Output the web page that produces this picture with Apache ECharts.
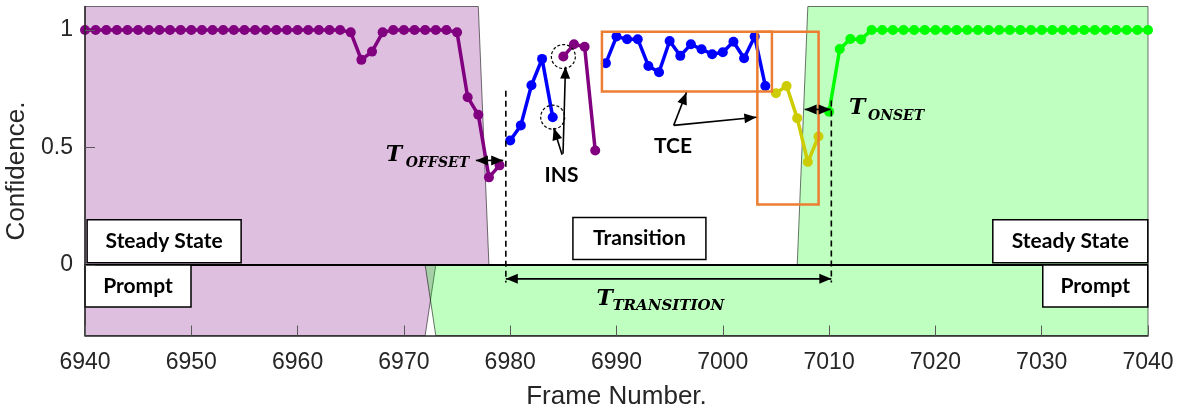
<!DOCTYPE html>
<html>
<head>
<meta charset="utf-8">
<script src="https://cdn.jsdelivr.net/npm/echarts@6.0.0/dist/echarts.min.js"></script>
<style>
html, body { margin: 0; padding: 0; background: #fff; }
#main { width: 1180px; height: 409px; }
</style>
</head>
<body>
<div id="main"></div>
<script>
// axis ranges
var xMin = 6940, xMax = 7040, xStep = 10;
var yMin = -0.3, yMax = 1.1;
var yTicks = [0, 0.5, 1];

// confidence per frame, each run starts at the given frame
var purpleStartA = 6940;
var purpleA = [1, 1, 1, 1, 1, 1, 1, 1, 1, 1, 1, 1, 1, 1, 1, 1, 1, 1, 1, 1, 1, 1, 1, 1, 1,
    0.99, 0.873, 0.908, 0.99, 1, 1, 1, 1, 1, 1, 0.99, 0.714, 0.639, 0.373, 0.424];
var blueStartA = 6980;
var blueA = [0.530, 0.594, 0.765, 0.877, 0.629];
var purpleStartB = 6985;
var purpleB = [0.887, 0.939, 0.929, 0.487];
var blueStartB = 6989;
var blueB = [0.859, 0.972, 0.961, 0.961, 0.847, 0.820, 0.953, 0.890, 0.939, 0.918,
    0.897, 0.905, 0.950, 0.880, 0.972, 0.762];
var yellowStart = 7005;
var yellowA = [0.731, 0.762, 0.625, 0.438, 0.547];
var greenStart = 7010;
var greenA = [0.652, 0.919, 0.962, 0.960, 1, 1, 1, 1, 1, 1, 1, 1, 1, 1, 1, 1, 1, 1, 1, 1,
    1, 1, 1, 1, 1, 1, 1, 1, 1, 1, 1];

// shaded regions [frame, confidence]
var steadyLeft = [[6940, 0], [6978, 0], [6977, 1.1], [6940, 1.1]];
var steadyRight = [[7007, 0], [7040, 0], [7040, 1.1], [7008, 1.1]];
var promptLeft = [[6940, -0.3], [6972, -0.3], [6973, 0], [6940, 0]];
var promptRight = [[6973, -0.3], [7040, -0.3], [7040, 0], [6972, 0]];

var PURPLE = '#800080', BLUE = '#0000ff', YELLOW = '#cccc00', GREEN = '#00ff00';
var PURPLE_FILL = 'rgba(128,0,128,0.25)', GREEN_FILL = 'rgba(0,255,0,0.25)';
var ORANGE = '#ed7d31';
var BOX_FONT = 'bold 21px Lato';
var T_FONT = 'bold italic 22px "DejaVu Serif"';
var SUB_FONT = 'bold italic 14px "DejaVu Serif"';

function seg(start, vals) {
    return vals.map(function (v, i) { return [start + i, v]; });
}

function lineSeries(data, color) {
    return {
        type: 'line',
        data: data,
        z: 3,
        symbol: 'circle',
        symbolSize: 10,
        lineStyle: { color: color, width: 3.5 },
        itemStyle: { color: color },
        emphasis: { disabled: true }
    };
}

function arrowHead(tip, from, len, wid) {
    var dx = tip[0] - from[0], dy = tip[1] - from[1];
    var d = Math.sqrt(dx * dx + dy * dy);
    var ux = dx / d, uy = dy / d;
    var bx = tip[0] - ux * len, by = tip[1] - uy * len;
    return {
        type: 'polygon',
        shape: { points: [tip, [bx - uy * wid / 2, by + ux * wid / 2], [bx + uy * wid / 2, by - ux * wid / 2]] },
        style: { fill: '#000' }
    };
}

function arrow(from, to, both) {
    var out = [{
        type: 'line',
        shape: { x1: from[0], y1: from[1], x2: to[0], y2: to[1] },
        style: { stroke: '#000', lineWidth: 1.6 }
    }, arrowHead(to, from, 12, 10)];
    if (both) out.push(arrowHead(from, to, 12, 10));
    return out;
}

function textBox(api, anchor, w, h, label) {
    var p = api.coord(anchor);
    return [{
        type: 'rect',
        shape: { x: p[0], y: p[1], width: w, height: h },
        style: { fill: '#fff', stroke: '#000', lineWidth: 1.5 }
    }, {
        type: 'text',
        style: { text: label, x: p[0] + w / 2, y: p[1] + h / 2, align: 'center', verticalAlign: 'middle', font: BOX_FONT, fill: '#000' }
    }];
}

function tLabel(api, anchor, sub, dx, dy, subFont) {
    var p = api.coord(anchor);
    return [{
        type: 'text',
        style: { text: 'T', x: p[0], y: p[1], align: 'left', verticalAlign: 'middle', font: T_FONT, fill: '#000' }
    }, {
        type: 'text',
        style: { text: sub, x: p[0] + dx, y: p[1] + dy, align: 'left', verticalAlign: 'middle', font: subFont || SUB_FONT, fill: '#000' }
    }];
}

function renderRegions(params, api) {
    function poly(pts, fill) {
        return {
            type: 'polygon',
            shape: { points: pts.map(function (q) { return api.coord(q); }) },
            style: { fill: fill, stroke: 'rgba(0,0,0,0.55)', lineWidth: 1 }
        };
    }
    var a = api.coord([xMin, 0]), b = api.coord([xMax, 0]);
    var kids = [
        poly(steadyLeft, PURPLE_FILL),
        poly(promptLeft, PURPLE_FILL),
        poly(steadyRight, GREEN_FILL),
        poly(promptRight, GREEN_FILL),
        { type: 'line', shape: { x1: a[0], y1: a[1], x2: b[0], y2: b[1] }, style: { stroke: '#000', lineWidth: 2 } }
    ];
    kids = kids.concat(
        textBox(api, [6940.2, 0.193], 154, 43, 'Steady State'),
        textBox(api, [6940, 0], 106, 42, 'Prompt'),
        textBox(api, [6985.9, 0.202], 133, 42, 'Transition'),
        textBox(api, [7025.4, 0.193], 155, 43, 'Steady State'),
        textBox(api, [7030.1, 0], 105, 42, 'Prompt')
    );
    return { type: 'group', children: kids };
}

function renderNotes(params, api) {
    var c = function (x, y) { return api.coord([x, y]); };
    var kids = [];
    // dashed frame markers
    [[6979.59, 0.741], [7010.21, 0.70]].forEach(function (d) {
        var p0 = c(d[0], d[1]), p1 = c(d[0], -0.074);
        kids.push({ type: 'line', shape: { x1: p0[0], y1: p0[1], x2: p1[0], y2: p1[1] },
            style: { stroke: '#000', lineWidth: 1.6, lineDash: [6, 4] } });
    });
    // orange TCE boxes
    [[6988.63, 0.993, 7004.62, 0.738], [7003.25, 0.993, 7009.01, 0.257]].forEach(function (r) {
        var p0 = c(r[0], r[1]), p1 = c(r[2], r[3]);
        kids.push({ type: 'rect', shape: { x: p0[0], y: p0[1], width: p1[0] - p0[0], height: p1[1] - p0[1] },
            style: { fill: 'none', stroke: ORANGE, lineWidth: 2.5 } });
    });
    // INS circles
    [[6984, 0.629], [6985, 0.887]].forEach(function (d) {
        var p = c(d[0], d[1]);
        kids.push({ type: 'circle', shape: { cx: p[0], cy: p[1], r: 12 },
            style: { fill: 'none', stroke: '#000', lineWidth: 1.2, lineDash: [3, 2] } });
    });
    kids = kids.concat(
        arrow(c(6984.88, 0.469), c(6984.10, 0.583)),
        arrow(c(6984.97, 0.473), c(6985.20, 0.844)),
        arrow(c(6995.38, 0.594), c(6996.58, 0.734)),
        arrow(c(6995.38, 0.594), c(7003.16, 0.629)),
        arrow(c(6976.77, 0.445), c(6979.34, 0.445), true),
        arrow(c(7007.70, 0.662), c(7010.15, 0.662), true),
        arrow(c(6979.59, -0.059), c(7010.21, -0.059), true)
    );
    var ins = c(6984.82, 0.380), tce = c(6995.32, 0.504);
    kids.push({ type: 'text', style: { text: 'INS', x: ins[0], y: ins[1], align: 'center', verticalAlign: 'middle', font: BOX_FONT, fill: '#000' } });
    kids.push({ type: 'text', style: { text: 'TCE', x: tce[0], y: tce[1], align: 'center', verticalAlign: 'middle', font: BOX_FONT, fill: '#000' } });
    kids = kids.concat(
        tLabel(api, [6968.30, 0.469], 'OFFSET', 20, 8.5),
        tLabel(api, [7011.87, 0.669], 'ONSET', 19, 8.7),
        tLabel(api, [6988.11, -0.146], 'TRANSITION', 16, 7, 'bold italic 15px "DejaVu Serif"')
    );
    return { type: 'group', children: kids };
}

var chart = echarts.init(document.getElementById('main'), null, { renderer: 'canvas' });
var option = {
    animation: false,
    backgroundColor: '#fff',
    grid: { left: 85, right: 32, top: 6.5, bottom: 73.5, outerBoundsMode: 'none', containLabel: false },
    xAxis: {
        type: 'value',
        min: xMin, max: xMax, interval: xStep,
        z: 10,
        name: 'Frame Number.',
        nameLocation: 'middle',
        nameGap: 48,
        nameTextStyle: { fontFamily: 'Liberation Sans', fontSize: 26, color: '#262626' },
        axisLine: { onZero: false, lineStyle: { color: '#262626', width: 1.5 } },
        axisTick: { inside: true, length: 10, lineStyle: { color: '#595959' } },
        axisLabel: {
            margin: 16, fontFamily: 'Liberation Sans', fontSize: 23, color: '#262626',
            formatter: function (v) { return String(v); }
        },
        splitLine: { show: false }
    },
    yAxis: {
        type: 'value',
        min: yMin, max: yMax,
        z: 10,
        name: 'Confidence.',
        nameLocation: 'middle',
        nameRotate: 90,
        nameGap: 47,
        nameTextStyle: { fontFamily: 'Liberation Sans', fontSize: 26, color: '#262626' },
        axisLine: { show: true, lineStyle: { color: '#262626', width: 1.5 } },
        axisTick: { show: true, inside: true, length: 10, customValues: yTicks, lineStyle: { color: '#595959' } },
        axisLabel: { margin: 12, fontFamily: 'Liberation Sans', fontSize: 23, color: '#262626', customValues: yTicks },
        splitLine: { show: false }
    },
    series: [
        { type: 'custom', z: 1, silent: true, clip: false, data: [[xMin, 0]], renderItem: renderRegions },
        lineSeries(seg(purpleStartA, purpleA), PURPLE),
        lineSeries(seg(purpleStartB, purpleB), PURPLE),
        lineSeries(seg(blueStartA, blueA), BLUE),
        lineSeries(seg(blueStartB, blueB), BLUE),
        lineSeries(seg(yellowStart, yellowA), YELLOW),
        lineSeries(seg(greenStart, greenA), GREEN),
        { type: 'custom', z: 5, silent: true, clip: false, data: [[xMin, 0]], renderItem: renderNotes }
    ]
};
chart.setOption(option);
</script>
</body>
</html>
